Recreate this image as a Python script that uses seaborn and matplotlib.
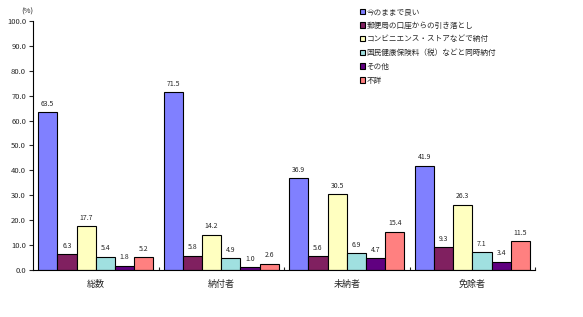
import matplotlib
matplotlib.use("Agg")
import matplotlib.pyplot as plt
import seaborn as sns
import pandas as pd
from matplotlib.ticker import FixedLocator

categories = ["総数", "納付者", "未納者", "免除者"]
series = ["今のままで良い", "郵便局の口座からの引き落とし", "コンビニエンス・ストアなどで納付",
          "国民健康保険料（税）などと同時納付", "その他", "不詳"]
v_now = [63.5, 71.5, 36.9, 41.9]
v_post = [6.3, 5.8, 5.6, 9.3]
v_conv = [17.7, 14.2, 30.5, 26.3]
v_nhi = [5.4, 4.9, 6.9, 7.1]
v_other = [1.8, 1.0, 4.7, 3.4]
v_unknown = [5.2, 2.6, 15.4, 11.5]
colors = ["#8080FF", "#802060", "#FFFFC0", "#A0E0E0", "#600080", "#FF8080"]
yticks = [0, 10, 20, 30, 40, 50, 60, 70, 80, 90, 100]

sns.set_style("white")
plt.rcParams["font.family"] = ["Noto Sans CJK JP", "DejaVu Sans"]

rows = []
for s, vals in zip(series, [v_now, v_post, v_conv, v_nhi, v_other, v_unknown]):
    for c, v in zip(categories, vals):
        rows.append({"cat": c, "series": s, "value": v})
df = pd.DataFrame(rows)

fig = plt.figure(figsize=(5.83, 3.17), dpi=100)
ax = fig.add_axes([0.0566, 0.1483, 0.8611, 0.7855])
sns.barplot(data=df, x="cat", y="value", hue="series", hue_order=series, order=categories,
            palette=colors, width=0.92, edgecolor="black", linewidth=0.8, saturation=1,
            ax=ax, errorbar=None)

for cont in ax.containers:
    ax.bar_label(cont, fmt="%.1f", fontsize=5, padding=3)

ax.set_xlim(-0.5, 3.5)
ax.set_ylim(0, 100)
ax.set_yticks(yticks)
ax.set_yticklabels([f"{t:.1f}" for t in yticks], fontsize=5.5)
ax.tick_params(axis="y", direction="out", length=3, width=0.8, left=True, pad=2)
ax.set_xticks(range(len(categories)))
ax.set_xticklabels(categories, fontsize=6.5)
ax.tick_params(axis="x", which="major", length=0, pad=7)
ax.xaxis.set_minor_locator(FixedLocator([0.5, 1.5, 2.5, 3.5]))
ax.tick_params(axis="x", which="minor", direction="in", length=2.5, width=0.8, bottom=True)
ax.set_xlabel("")
ax.set_ylabel("")
for sp in ["top", "right"]:
    ax.spines[sp].set_visible(False)
for sp in ["left", "bottom"]:
    ax.spines[sp].set_color("black")
    ax.spines[sp].set_linewidth(0.8)

ax.text(-0.012, 1.036, "(%)", transform=ax.transAxes, fontsize=5.5, ha="center", va="center")

leg = ax.legend(loc="upper left", bbox_to_anchor=(0.645, 1.065), frameon=False, fontsize=5.5,
                handlelength=0.7, handleheight=0.7, handletextpad=0.2, labelspacing=0.75,
                borderaxespad=0)

fig.savefig("out.png", dpi=100)
